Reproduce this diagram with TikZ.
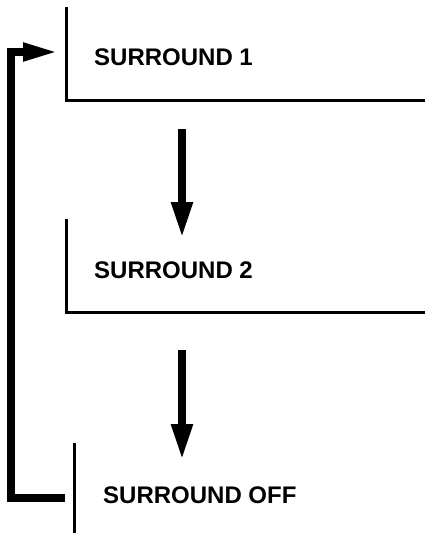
\documentclass[tikz,border=0pt]{standalone}
\usepackage{fontspec}
\setmainfont{Liberation Sans}
\usetikzlibrary{arrows.meta}
\begin{document}
\begin{tikzpicture}[x=1pt,y=-1pt,
  bracket/.style={line width=3pt},
  label/.style={anchor=west,inner sep=0pt,font=\fontsize{24}{28}\selectfont\bfseries},
  flow/.style={line width=8pt,-{Triangle[length=36pt,width=20pt]}},
  loop/.style={line width=7.5pt,-{Triangle[length=35pt,width=17pt]}}]
\useasboundingbox[fill=white] (0,0) rectangle (428,533);
% bracket 1
\coordinate (b1t) at (66,7);
\coordinate (b1c) at (66,100);
\coordinate (b1r) at (425,100);
\draw[bracket] (b1t) -- (b1c) -- (b1r);
\node[label] (t1) at (94,57) {SURROUND 1};
% bracket 2
\coordinate (b2t) at (66,219);
\coordinate (b2c) at (66,312);
\coordinate (b2r) at (425,312);
\draw[bracket] (b2t) -- (b2c) -- (b2r);
\node[label] (t2) at (94,270) {SURROUND 2};
% bracket 3
\coordinate (b3t) at (74.5,443);
\coordinate (b3b) at (74.5,533);
\draw[bracket] (b3t) -- (b3b);
\node[label] (t3) at (103,495) {SURROUND OFF};
% flow arrows
\coordinate (a1s) at (182,129);
\coordinate (a1e) at (182,238);
\draw[flow] (a1s) -- (a1e);
\coordinate (a2s) at (182,350);
\coordinate (a2e) at (182,460);
\draw[flow] (a2s) -- (a2e);
% loop back
\coordinate (ls) at (65,498);
\coordinate (lc1) at (11,498);
\coordinate (lc2) at (11,52);
\coordinate (le) at (58,52);
\draw[loop] (ls) -- (lc1) -- (lc2) -- (le);
\end{tikzpicture}
\end{document}
